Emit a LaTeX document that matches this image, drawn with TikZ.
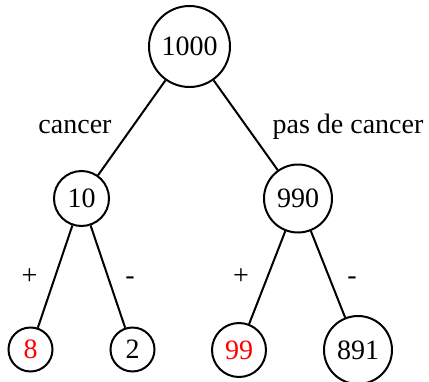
\documentclass[tikz,border=0pt]{standalone}
\usepackage{fontspec}
\setmainfont{Liberation Serif}
\begin{document}
\begin{tikzpicture}[x=1pt,y=-1pt,
  font=\fontsize{28}{33}\selectfont,
  nd/.style={draw,circle,line width=2pt,inner sep=0pt},
  lbl/.style={inner sep=0pt,anchor=base},
  edge/.style={line width=2pt}]
\useasboundingbox (0,0) rectangle (429,381);
\node[nd,minimum size=81pt] (r) at (189.5,46.5) {1000};
\node[nd,minimum size=55pt] (a) at (81.5,198.5) {10};
\node[nd,minimum size=68pt] (b) at (298,198.5) {990};
\node[nd,minimum size=44pt,text=red] (a1) at (30.5,349.5) {8};
\node[nd,minimum size=44pt] (a2) at (132.5,349.5) {2};
\node[nd,minimum size=54pt,text=red] (b1) at (239,350) {99};
\node[nd,minimum size=68pt] (b2) at (358,350) {891};
\draw[edge] (r) -- (a);
\draw[edge] (r) -- (b);
\draw[edge] (a) -- (a1);
\draw[edge] (a) -- (a2);
\draw[edge] (b) -- (b1);
\draw[edge] (b) -- (b2);
\node[lbl] (l1) at (75,133.5) {cancer};
\node[lbl] (l2) at (348,133.5) {pas de cancer};
\node[lbl] (p1) at (29.5,284) {+};
\node[lbl] (m1) at (130,284) {-};
\node[lbl] (p2) at (241,284) {+};
\node[lbl] (m2) at (352,284) {-};
\end{tikzpicture}
\end{document}
